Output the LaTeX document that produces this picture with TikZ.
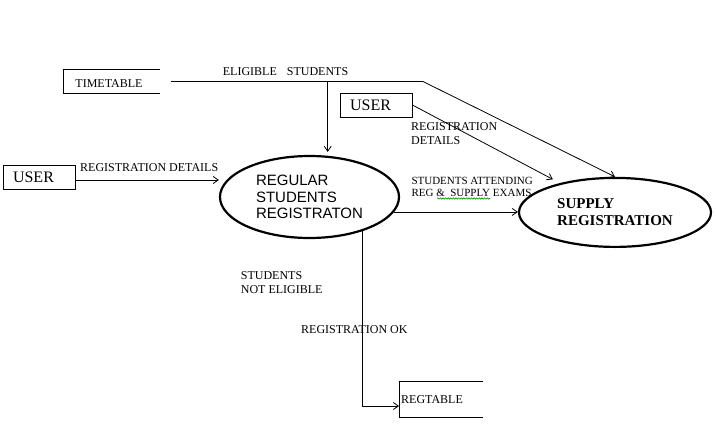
\documentclass[tikz,border=0pt]{standalone}
\usepackage{fontspec}
\setmainfont{Liberation Serif}
\newfontfamily\arialf{Liberation Sans}
\usetikzlibrary{shapes.geometric,arrows.meta,decorations.pathmorphing}
\begin{document}
\begin{tikzpicture}[x=1pt,y=-1pt,
 lbl/.style={anchor=west,inner sep=0pt,align=left,font=\fontsize{12}{14}\selectfont},
 smalllbl/.style={anchor=west,inner sep=0pt,align=left,font=\fontsize{11}{12.3}\selectfont},
 ln/.style={line width=0.8pt},
 arr/.style={ln,-{Straight Barb[length=5pt,width=7pt]}},
 box/.style={draw,line width=0.8pt,inner sep=0pt,font=\fontsize{16}{16}\selectfont},
 openbox/.style={inner sep=0pt},
 proc/.style={ellipse,draw,line width=2.2pt,inner sep=0pt,align=left}]
\useasboundingbox (0,0) rectangle (716,426);

% external entities
\node[openbox,minimum width=96,minimum height=24] (ttbox) at (111.3,81.3) {};
\draw[ln] (ttbox.north east) -- (ttbox.north west) -- (ttbox.south west) -- (ttbox.south east);
\node[lbl,anchor=center] (tt) at (109,84) {TIMETABLE};

\node[box,minimum width=72,minimum height=23.5] (userL) at (39.5,177.4) {\hspace*{-12pt}\raisebox{-1.5pt}{USER}};
\node[box,minimum width=72,minimum height=24] (userT) at (376,105) {\hspace*{-11pt}USER};

\node[openbox,minimum width=84,minimum height=35] (regtbox) at (441.2,399.2) {};
\draw[ln] (regtbox.north east) -- (regtbox.north west) -- (regtbox.south west) -- (regtbox.south east);
\node[lbl] (regt) at (401,399.3) {REGTABLE};

% processes
\node[proc,minimum width=179,minimum height=82,font=\arialf\fontsize{15}{16.7}\selectfont] (reg) at (309.5,197)
  {REGULAR\\STUDENTS\\REGISTRATON};
\node[proc,minimum width=192,minimum height=69,font=\bfseries\fontsize{15}{16.6}\selectfont] (sup) at (615,212.4)
  {SUPPLY\\REGISTRATION};

% connectors
\coordinate (ttout) at (171,81.5);
\coordinate (junc) at (327.7,81.5);
\coordinate (bend) at (423,81.5);
\draw[arr] (ttout) -- (bend) -- (sup.north);
\draw[arr,shorten >=3pt] (junc) -- (junc |- reg.north);

\coordinate (uLout) at ([yshift=-2.6]userL.east);
\draw[arr] (uLout) -- (uLout -| reg.west);

\draw[arr,shorten >=8pt] (userT.east) -- (sup.152);

\draw[arr] (reg.-10) -- (reg.-10 -| sup.west);

\coordinate (regtin) at ([yshift=-6.8]regtbox.west);
\draw[arr] (reg.-33) |- (regtin);

% labels
\node[lbl] (lElig) at (222.7,71.7) {ELIGIBLE\hspace{10pt}STUDENTS};
\node[lbl] (lRegDet) at (80,167.3) {REGISTRATION DETAILS};
\node[lbl] (lRegDet2) at (411,133.7) {REGISTRATION\\DETAILS};
\node[smalllbl] (lAttend) at (411.3,187.2) {STUDENTS ATTENDING\\REG \&\ \ SUPPLY EXAMS};
\draw[green!55!black,line width=0.6pt,decorate,decoration={snake,amplitude=0.7pt,segment length=2.6pt}]
  (437,198.5) -- (490,198.5);
\node[lbl] (lNot) at (240.7,282.2) {STUDENTS\\NOT ELIGIBLE};
\node[lbl] (lOk) at (301,330) {REGISTRATION OK};
\end{tikzpicture}
\end{document}
